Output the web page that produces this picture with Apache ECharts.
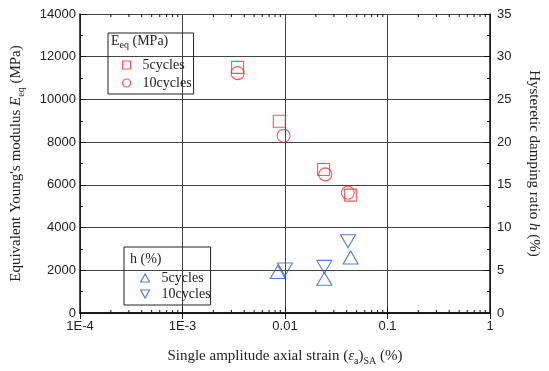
<!DOCTYPE html>
<html>
<head>
<meta charset="UTF-8">
<title>Eeq and h vs strain</title>
<script src="https://cdn.jsdelivr.net/npm/echarts@6/dist/echarts.min.js"></script>
<style>
    html, body { margin: 0; padding: 0; background: #fff; }
    #chart { width: 549px; height: 371px; }
</style>
</head>
<body>
<div id="chart"></div>
<script>
    // strain (%) and Eeq (MPa)
    const eq5Strain = [0.00345, 0.0088, 0.0238, 0.0437];
    const eq5Value = [11500, 8980, 6720, 5520];
    const eq10Strain = [0.00345, 0.0097, 0.0247, 0.0410];
    const eq10Value = [11230, 8300, 6490, 5630];

    // strain (%) and h (%)
    const h5Strain = [0.0085, 0.0242, 0.0437];
    const h5Value = [4.8, 4.0, 6.5];
    const h10Strain = [0.0100, 0.0242, 0.0412];
    const h10Value = [5.1, 5.4, 8.4];

    const xTickLabels = ['1E-4', '1E-3', '0.01', '0.1', '1'];
    const decades = [0.0001, 0.001, 0.01, 0.1];
    const minorSteps = [2, 3, 4, 5, 6, 7, 8, 9];

    const legendNames = { E5: '5cycles', E10: '10cycles', h5: '5cycles', h10: '10cycles' };

    const red = '#ee2e31';
    const blue = '#2f5fbf';
    const serif = 'Liberation Serif';
    const sans = 'Liberation Sans';
    const downTriangle = 'path://M0,0 L10,0 L5,9 Z';

    const pairs = (xs, ys) => xs.map((x, i) => [x, ys[i]]);

    const minorTicks = [];
    decades.forEach(d => minorSteps.forEach(m => minorTicks.push([d * m, 0])));

    const chart = echarts.init(document.getElementById('chart'));

    const axisLine = { show: true, lineStyle: { color: '#111', width: 1.5 } };
    const rich = {
        i: { fontStyle: 'italic', fontFamily: serif, fontSize: 15, color: '#222' },
        sub: { fontFamily: serif, fontSize: 10, color: '#222', padding: [9, 0, 0, 0] }
    };
    const markStyle = c => ({ color: 'transparent', borderColor: c, borderWidth: 1.1 });

    const option = {
        animation: false,
        backgroundColor: '#fff',
        grid: { left: 80, right: 55, top: 14, bottom: 53 },
        xAxis: [{
            type: 'log',
            logBase: 10,
            min: 0.0001,
            max: 1,
            position: 'bottom',
            axisLine: axisLine,
            axisTick: { inside: true, length: 6, lineStyle: { color: '#111' } },
            axisLabel: {
                fontFamily: sans, fontSize: 13, color: '#222', margin: 7,
                formatter: v => xTickLabels[Math.round(Math.log10(v)) + 4]
            },
            splitLine: { show: true, lineStyle: { color: '#444', width: 1 } },
            name: 'Single amplitude axial strain ({i|ε}{sub|a}){sub|SA} (%)',
            nameLocation: 'middle',
            nameGap: 34,
            nameTextStyle: { fontFamily: serif, fontSize: 15, color: '#222', rich: rich }
        }, {
            type: 'log',
            logBase: 10,
            min: 0.0001,
            max: 1,
            position: 'top',
            axisLine: axisLine,
            axisTick: { inside: true, length: 6, lineStyle: { color: '#111' } },
            axisLabel: { show: false },
            splitLine: { show: false }
        }],
        yAxis: [{
            type: 'value',
            min: 0,
            max: 14000,
            interval: 2000,
            position: 'left',
            axisLine: axisLine,
            axisTick: { inside: true, length: 6, lineStyle: { color: '#111' } },
            minorTick: { show: true, splitNumber: 2, length: 3, lineStyle: { color: '#111' } },
            axisLabel: { fontFamily: sans, fontSize: 13, color: '#222', margin: 4, formatter: v => String(v) },
            splitLine: { show: true, lineStyle: { color: '#444', width: 1 } },
            name: "Equivalent Young's modulus {i|E}{sub|eq} (MPa)",
            nameLocation: 'middle',
            nameRotate: 90,
            nameGap: 54,
            nameTextStyle: { fontFamily: serif, fontSize: 15, color: '#222', rich: rich }
        }, {
            type: 'value',
            min: 0,
            max: 35,
            interval: 5,
            position: 'right',
            axisLine: axisLine,
            axisTick: { inside: true, length: 6, lineStyle: { color: '#111' } },
            minorTick: { show: true, splitNumber: 2, length: 3, lineStyle: { color: '#111' } },
            axisLabel: { fontFamily: sans, fontSize: 13, color: '#222', margin: 7 },
            splitLine: { show: false },
            name: 'Hysteretic damping ratio {i|h} (%)',
            nameLocation: 'middle',
            nameRotate: -90,
            nameGap: 36,
            nameTextStyle: { fontFamily: serif, fontSize: 15, color: '#222', rich: rich }
        }],
        legend: [{
            data: [{ name: 'E5', icon: 'rect' }, { name: 'E10', icon: 'circle' }],
            orient: 'vertical',
            left: 108,
            top: 33,
            padding: [24, 2, 3, 14],
            itemGap: 2,
            itemWidth: 8,
            itemHeight: 8,
            borderColor: '#222',
            borderWidth: 1,
            formatter: n => legendNames[n],
            textStyle: { fontFamily: serif, fontSize: 14, color: '#222', lineHeight: 16, padding: [0, 0, 0, 7] },
            itemStyle: { borderWidth: 1.2 },
            selectedMode: false
        }, {
            data: [{ name: 'h5', icon: 'triangle' }, { name: 'h10', icon: downTriangle }],
            orient: 'vertical',
            left: 124,
            top: 247,
            padding: [23, 0, 3, 16],
            itemGap: 0,
            itemWidth: 9,
            itemHeight: 8,
            borderColor: '#222',
            borderWidth: 1,
            formatter: n => legendNames[n],
            textStyle: { fontFamily: serif, fontSize: 14, color: '#222', lineHeight: 16, padding: [0, 0, 0, 7] },
            itemStyle: { borderWidth: 1.2 },
            selectedMode: false
        }],
        graphic: [{
            type: 'text',
            left: 111,
            top: 34,
            style: {
                text: 'E{sub|eq} (MPa)',
                fontFamily: serif, fontSize: 14, fill: '#222',
                rich: { sub: { fontFamily: serif, fontSize: 10, fill: '#222', padding: [9, 0, 0, 0] } }
            }
        }, {
            type: 'text',
            left: 130,
            top: 252,
            style: { text: 'h (%)', fontFamily: serif, fontSize: 14, fill: '#222' }
        }],
        series: [{
            name: 'E5',
            type: 'scatter',
            xAxisIndex: 0, yAxisIndex: 0,
            symbol: 'rect',
            symbolSize: 12,
            itemStyle: markStyle(red),
            data: pairs(eq5Strain, eq5Value),
            z: 5
        }, {
            name: 'E10',
            type: 'scatter',
            xAxisIndex: 0, yAxisIndex: 0,
            symbol: 'circle',
            symbolSize: 13,
            itemStyle: markStyle(red),
            data: pairs(eq10Strain, eq10Value),
            z: 5
        }, {
            name: 'h5',
            type: 'scatter',
            xAxisIndex: 0, yAxisIndex: 1,
            symbol: 'triangle',
            symbolSize: [15, 13],
            itemStyle: markStyle(blue),
            data: pairs(h5Strain, h5Value),
            z: 5
        }, {
            name: 'h10',
            type: 'scatter',
            xAxisIndex: 0, yAxisIndex: 1,
            symbol: 'triangle',
            symbolRotate: 180,
            symbolSize: [15, 13],
            itemStyle: markStyle(blue),
            data: pairs(h10Strain, h10Value),
            z: 5
        }, {
            // minor log ticks on bottom and top edges
            type: 'custom',
            xAxisIndex: 0, yAxisIndex: 0,
            silent: true,
            clip: false,
            data: minorTicks,
            renderItem: (params, api) => {
                const b = api.coord([api.value(0), 0]);
                const t = api.coord([api.value(0), 14000]);
                return {
                    type: 'group',
                    children: [
                        { type: 'line', shape: { x1: b[0], y1: b[1], x2: b[0], y2: b[1] - 3 }, style: { stroke: '#111', lineWidth: 1 } },
                        { type: 'line', shape: { x1: t[0], y1: t[1], x2: t[0], y2: t[1] + 3 }, style: { stroke: '#111', lineWidth: 1 } }
                    ]
                };
            }
        }]
    };

    chart.setOption(option);
</script>
</body>
</html>
